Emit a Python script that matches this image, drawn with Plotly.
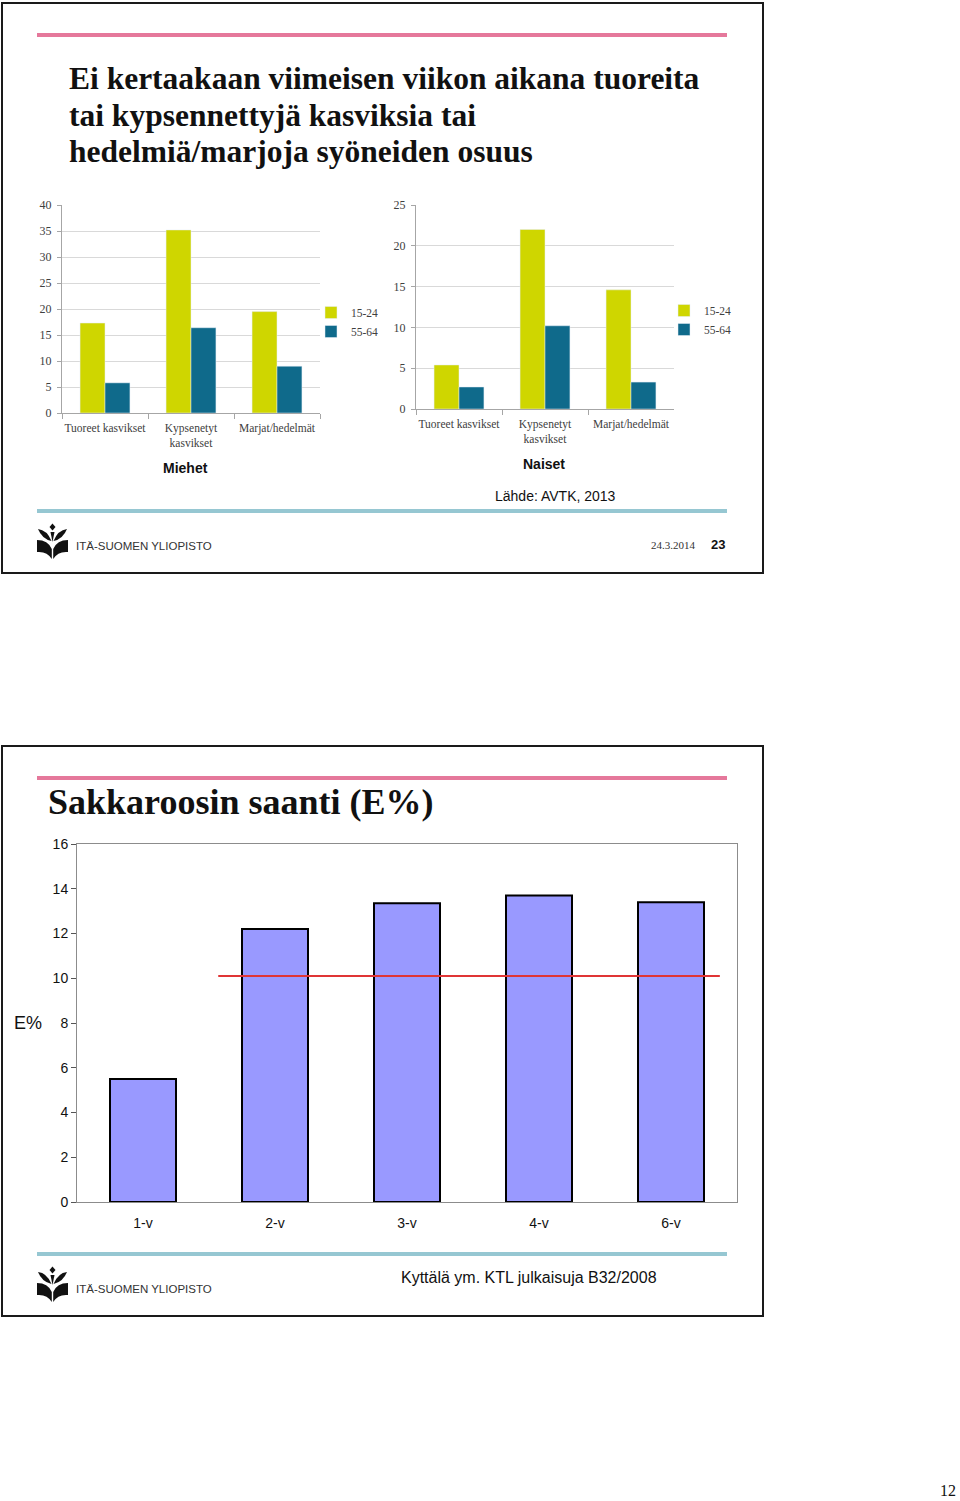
import plotly.graph_objects as go

W, H = 960, 1501

# ---------------- data ----------------
CATEGORIES = ["Tuoreet kasvikset", "Kypsenetyt<br>kasvikset", "Marjat/hedelmät"]
AGE_GROUPS = ["15-24", "55-64"]
MIEHET_15_24 = [17.3, 35.2, 19.5]
MIEHET_55_64 = [5.8, 16.4, 9.0]
NAISET_15_24 = [5.4, 22.0, 14.6]
NAISET_55_64 = [2.7, 10.2, 3.3]

SAKK_CATS = ["1-v", "2-v", "3-v", "4-v", "6-v"]
SAKK_VALUES = [5.5, 12.2, 13.35, 13.7, 13.4]
SAKK_REF = 10.1

TITLE1_LINES = ["Ei kertaakaan viimeisen viikon aikana tuoreita",
                "tai kypsennettyjä kasviksia tai",
                "hedelmiä/marjoja syöneiden osuus"]
TITLE2 = "Sakkaroosin saanti (E%)"

# ---------------- style ----------------
YELLOW = "#cfd600"
TEAL = "#0f6a8b"
PINK = "#e5789b"
LIGHTBLUE = "#96c7d2"
BAR3 = "#9999ff"
SERIF = "Liberation Serif, Times New Roman, serif"
SANS = "Liberation Sans, Arial, sans-serif"


def px(x):
    return x / W


def py(y):
    return 1 - y / H


fig = go.Figure()

# chart 1 (Miehet)
fig.add_trace(go.Bar(x=CATEGORIES, y=MIEHET_15_24, name=AGE_GROUPS[0], marker_color=YELLOW,
                     xaxis="x", yaxis="y", legend="legend"))
fig.add_trace(go.Bar(x=CATEGORIES, y=MIEHET_55_64, name=AGE_GROUPS[1], marker_color=TEAL,
                     xaxis="x", yaxis="y", legend="legend"))
# chart 2 (Naiset)
fig.add_trace(go.Bar(x=CATEGORIES, y=NAISET_15_24, name=AGE_GROUPS[0], marker_color=YELLOW,
                     xaxis="x2", yaxis="y2", legend="legend2"))
fig.add_trace(go.Bar(x=CATEGORIES, y=NAISET_55_64, name=AGE_GROUPS[1], marker_color=TEAL,
                     xaxis="x2", yaxis="y2", legend="legend2"))
# chart 3 (Sakkaroosi)
fig.add_trace(go.Bar(x=SAKK_CATS, y=SAKK_VALUES, width=0.5, marker_color=BAR3,
                     marker_line=dict(color="black", width=2), showlegend=False,
                     xaxis="x3", yaxis="y3"))

small_x = dict(showline=True, linecolor="#a6a6a6", linewidth=1, ticks="outside",
               tickson="boundaries", ticklen=5, tickcolor="#a6a6a6", tickangle=0,
               ticklabelstandoff=4,
               tickfont=dict(family=SERIF, size=11.5, color="#404040"), fixedrange=True,
               showgrid=False, zeroline=False, automargin=False)
small_y = dict(showline=True, linecolor="#a6a6a6", linewidth=1, ticks="outside",
               ticklen=4, tickcolor="#a6a6a6", gridcolor="#d9d9d9", gridwidth=1,
               ticklabelstandoff=3,
               tickfont=dict(family=SERIF, size=12, color="#404040"), zeroline=False,
               fixedrange=True, automargin=False)

leg_common = dict(font=dict(family=SERIF, size=11.5, color="#404040"), bgcolor="rgba(0,0,0,0)",
                  xanchor="left", yanchor="top", traceorder="normal", itemwidth=30,
                  tracegroupgap=0)

fig.update_layout(
    width=W, height=H, autosize=False,
    margin=dict(l=0, r=0, t=0, b=0, autoexpand=False),
    paper_bgcolor="white", plot_bgcolor="white",
    barmode="group", bargap=0.42, bargroupgap=0,
    xaxis=dict(domain=[px(62), px(320)], anchor="y", **small_x),
    yaxis=dict(domain=[py(413), py(205)], anchor="x", range=[0, 40], dtick=5, **small_y),
    xaxis2=dict(domain=[px(416), px(674)], anchor="y2", **small_x),
    yaxis2=dict(domain=[py(409), py(205)], anchor="x2", range=[0, 25], dtick=5, **small_y),
    xaxis3=dict(domain=[px(77), px(737)], anchor="y3", showline=True, mirror=True,
                linecolor="#8c8c8c", linewidth=1, ticks="outside", ticklen=8,
                tickcolor="rgba(0,0,0,0)", tickfont=dict(family=SANS, size=14, color="#111"),
                showgrid=False, zeroline=False, fixedrange=True, automargin=False),
    yaxis3=dict(domain=[py(1202), py(844)], anchor="x3", range=[0, 16], dtick=2,
                showline=True, mirror=True, linecolor="#8c8c8c", linewidth=1,
                ticks="outside", ticklen=5, tickcolor="#555",
                tickfont=dict(family=SANS, size=14, color="#111"), showgrid=False,
                zeroline=False, fixedrange=True, automargin=False),
    legend=dict(x=px(311), y=py(298), **leg_common),
    legend2=dict(x=px(664), y=py(296), **leg_common),
)

shapes = []
# slide borders
for (y0, y1) in [(3, 573), (746, 1316)]:
    shapes.append(dict(type="rect", xref="paper", yref="paper", x0=px(2), x1=px(763),
                       y0=py(y1), y1=py(y0), line=dict(color="#1a1a1a", width=2),
                       fillcolor="rgba(0,0,0,0)"))
# pink header lines and light blue footer lines
for yy in [35, 778]:
    shapes.append(dict(type="line", xref="paper", yref="paper", x0=px(37), x1=px(727),
                       y0=py(yy), y1=py(yy), line=dict(color=PINK, width=4)))
for yy in [511, 1254]:
    shapes.append(dict(type="line", xref="paper", yref="paper", x0=px(37), x1=px(727),
                       y0=py(yy), y1=py(yy), line=dict(color=LIGHTBLUE, width=4)))

# reference line in chart 3
shapes.append(dict(type="line", xref="x3", yref="y3", x0=0.57, x1=4.37, y0=SAKK_REF,
                   y1=SAKK_REF, line=dict(color="#e03535", width=2)))


def logo_paths(ox, oy):
    segs = [
        [("M", (52.5, 523.5)), ("L", (55.5, 527)), ("L", (52.5, 530.5)), ("L", (49.5, 527))],
        [("M", (38, 529)), ("Q", (47, 530)), ("", (51.5, 541)), ("Q", (42, 539)), ("", (38, 529))],
        [("M", (67, 529)), ("Q", (58, 530)), ("", (53.5, 541)), ("Q", (63, 539)), ("", (67, 529))],
        [("M", (50.5, 532)), ("L", (54.5, 532)), ("L", (52.5, 542))],
        [("M", (37, 540)), ("Q", (48, 540)), ("", (51.8, 549)), ("L", (51.8, 559)),
         ("Q", (47, 551)), ("", (37, 552))],
        [("M", (68, 540)), ("Q", (57, 540)), ("", (53.2, 549)), ("L", (53.2, 559)),
         ("Q", (58, 551)), ("", (68, 552))],
    ]
    out = []
    for seg in segs:
        parts = []
        for cmd, (x, y) in seg:
            pt = "{:.5f},{:.5f}".format(px(x + ox), py(y + oy))
            parts.append((cmd + " " + pt) if cmd else pt)
        out.append(" ".join(parts) + " Z")
    return out


for oy in [0, 743]:
    for d in logo_paths(0, oy):
        shapes.append(dict(type="path", xref="paper", yref="paper", path=d,
                           fillcolor="#111", line=dict(width=0)))

fig.update_layout(shapes=shapes)

ann = []


def text(x, y, s, size, family=SANS, color="#111", xanchor="left", yanchor="middle",
         align="left"):
    ann.append(dict(x=px(x), y=py(y), xref="paper", yref="paper", text=s, showarrow=False,
                    xanchor=xanchor, yanchor=yanchor, align=align,
                    font=dict(family=family, size=size, color=color)))


for i, line in enumerate(TITLE1_LINES):
    text(67, 79 + 36.5 * i, "<b>" + line + "</b>", 31.5, family=SERIF, color="#111")
text(185, 468, "<b>Miehet</b>", 14, xanchor="center")
text(544, 464, "<b>Naiset</b>", 14, xanchor="center")
text(555, 496, "Lähde: AVTK, 2013", 14, xanchor="center")
for oy in [0, 743]:
    text(74, 546 + oy, "ITÄ-SUOMEN YLIOPISTO", 11.5, color="#333")
text(698, 545, "24.3.2014", 11, family=SERIF, color="#333", xanchor="right")
text(727, 545, "<b>23</b>", 13, xanchor="right")

text(46, 802, "<b>" + TITLE2 + "</b>", 36, family=SERIF, color="#111")
text(28, 1023, "E%", 18, xanchor="center")
text(529, 1277, "Kyttälä ym. KTL julkaisuja B32/2008", 16, xanchor="center")
text(958, 1501, "12", 16, family=SERIF, color="#111", xanchor="right", yanchor="bottom")

fig.update_layout(annotations=ann)

POST = """
var de = document.documentElement, b = document.body;
de.style.margin = '0'; de.style.padding = '0'; de.style.overflow = 'hidden';
b.style.margin = '0'; b.style.padding = '0'; b.style.overflow = 'hidden';
"""

fig.write_html("out.html", post_script=POST)
